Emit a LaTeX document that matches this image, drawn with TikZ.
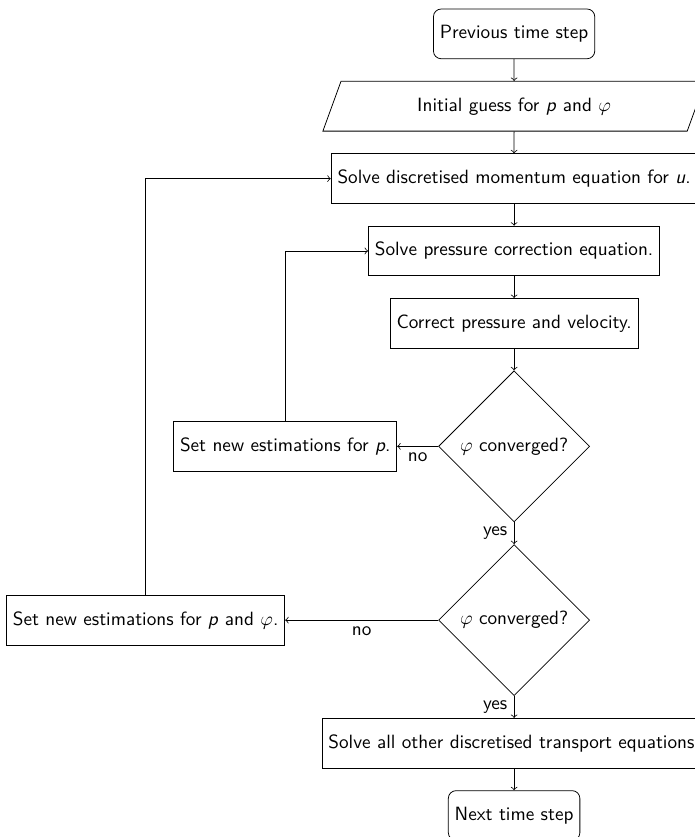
\documentclass[tikz,border=0pt]{standalone}
\usetikzlibrary{shapes.geometric,positioning}
\begin{document}
\begin{tikzpicture}
        [node distance=0.4cm,
        every node/.style={font=\sffamily},
        startstop/.style={rectangle,rounded corners,draw,minimum height=0.91cm},
        io/.style={trapezium,trapezium left angle=70,trapezium right angle=110,
            trapezium stretches body,draw,minimum width=7cm,inner ysep=8.4pt},
        process/.style={rectangle,draw,minimum height=0.91cm},
        decision/.style={diamond,aspect=1,draw}]
        \useasboundingbox (-9.41,0.62) rectangle (3.31,-14.70);
        \clip (-9.41,0.62) rectangle (3.31,-14.70);
        % main column
        \node[startstop] (prev) {Previous time step};
        \node[io,below=of prev] (guess) {Initial guess for \textit{p} and $\varphi$};
        \node[process,below=of guess] (mom) {Solve discretised momentum equation for \textit{u}.};
        \node[process,below=of mom] (press) {Solve pressure correction equation.};
        \node[process,below=of press] (corr) {Correct pressure and velocity.};
        \node[decision,below=of corr] (conv1) {$\varphi$ converged?};
        \node[decision,below=of conv1] (conv2) {$\varphi$ converged?};
        \node[process,below=of conv2] (other) {Solve all other discretised transport equations.};
        \node[startstop,below=of other] (next) {Next time step};
        % side boxes
        \node[process,left=0.75cm of conv1] (setp) {Set new estimations for \textit{p}.};
        \node[process,left=2.8cm of conv2] (setpphi) {Set new estimations for \textit{p} and $\varphi$.};
        % arrows
        \draw[->] (prev) -- (guess);
        \draw[->] (guess) -- (mom);
        \draw[->] (mom) -- (press);
        \draw[->] (press) -- (corr);
        \draw[->] (corr) -- (conv1);
        \draw[->] (conv1) -- node[left]{yes} (conv2);
        \draw[->] (conv2) -- node[left]{yes} (other);
        \draw[->] (other) -- (next);
        \draw[->] (conv1) -- node[below]{no} (setp);
        \draw[->] (conv2) -- node[below]{no} (setpphi);
        \draw[->] (setp) |- (press);
        \draw[->] (setpphi) |- (mom);
\end{tikzpicture}
\end{document}
